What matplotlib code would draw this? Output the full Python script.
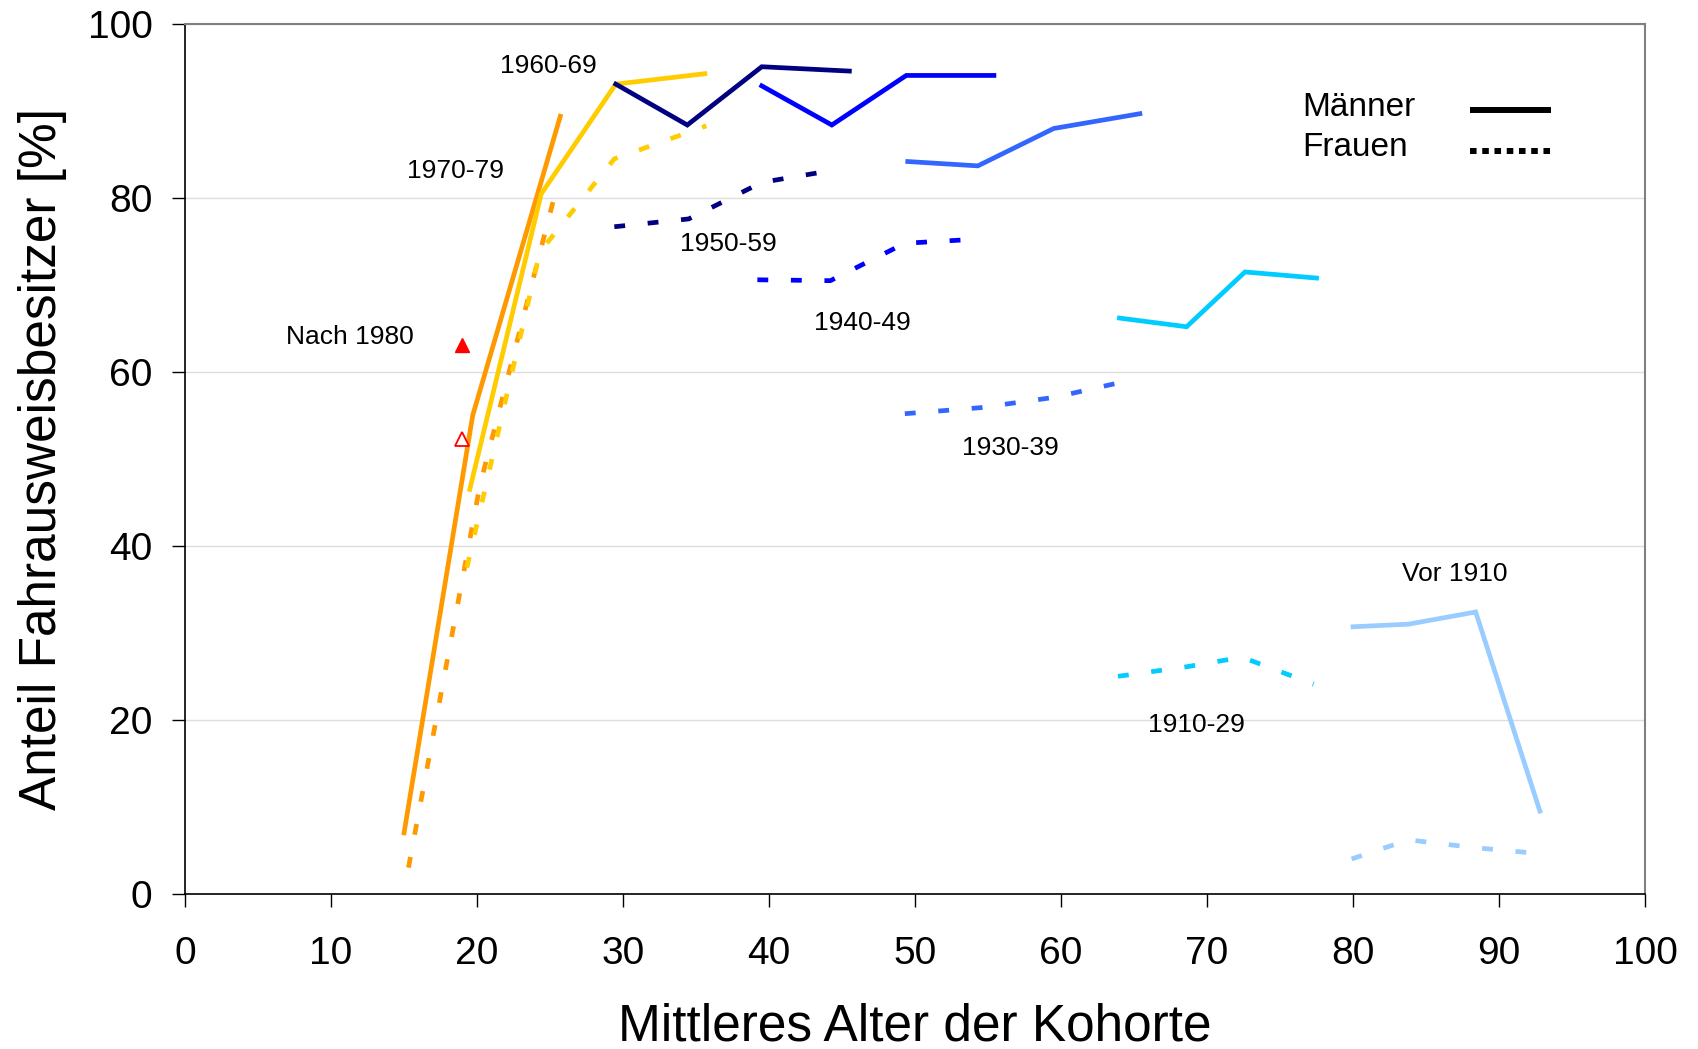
import matplotlib.pyplot as plt

plt.rcParams['font.family'] = ['Liberation Sans', 'DejaVu Sans']

# Kohorten: mittleres Alter (x) und Anteil Fahrausweisbesitzer in % (y)
# Männer = durchgezogen, Frauen = gestrichelt

# Nach 1980
n80_x = [19.0]
n80_m = [63.1]
n80_w = [52.3]

# 1970-79
k7079_xm = [15.0, 19.7, 25.7]
k7079_m = [7.0, 55.0, 89.4]
k7079_xw = [15.3, 20.2, 25.5]
k7079_w = [3.0, 47.0, 81.5]

# 1960-69
k6069_xm = [19.5, 24.4, 29.5, 35.6]
k6069_m = [46.5, 80.5, 93.1, 94.3]
k6069_xw = [19.3, 24.3, 29.4, 35.7]
k6069_w = [37.5, 73.8, 84.5, 88.3]

# 1950-59
k5059_xm = [29.5, 34.4, 39.5, 45.5]
k5059_m = [93.1, 88.4, 95.1, 94.6]
k5059_xw = [29.4, 34.5, 39.5, 44.4]
k5059_w = [76.7, 77.6, 81.8, 83.2]

# 1940-49
k4049_xm = [39.5, 44.3, 49.4, 55.4]
k4049_m = [92.9, 88.4, 94.1, 94.1]
k4049_xw = [39.2, 44.2, 49.3, 54.5]
k4049_w = [70.6, 70.5, 74.8, 75.3]

# 1930-39
k3039_xm = [49.5, 54.3, 59.5, 65.4]
k3039_m = [84.2, 83.7, 88.0, 89.7]
k3039_xw = [49.3, 54.5, 59.6, 64.6]
k3039_w = [55.2, 55.9, 57.1, 59.0]

# 1910-29
k1029_xm = [64.0, 68.6, 72.6, 77.5]
k1029_m = [66.2, 65.2, 71.5, 70.8]
k1029_xw = [63.9, 68.6, 72.4, 77.3]
k1029_w = [25.0, 26.1, 27.2, 24.1]

# Vor 1910
v1910_xm = [80.0, 83.8, 88.4, 92.8]
v1910_m = [30.7, 31.0, 32.4, 9.5]
v1910_xw = [79.9, 83.8, 88.3, 92.9]
v1910_w = [4.0, 6.2, 5.3, 4.6]

# Beschriftungen der Kohorten (Text, x, y)
labels = ['Nach 1980', '1970-79', '1960-69', '1950-59', '1940-49', '1930-39', '1910-29', 'Vor 1910']
label_x = [11.3, 18.5, 24.9, 37.2, 46.4, 56.5, 69.3, 87.0]
label_y = [64.0, 83.1, 95.2, 74.7, 65.6, 51.3, 19.4, 36.8]

fig = plt.figure(figsize=(16.98, 10.49), dpi=100)
ax = fig.add_axes([0.109, 0.148, 0.8598, 0.829])

lw = 3.4
dash = (0, (2.3, 4.8))

kohorten = [
    (k7079_xm, k7079_m, k7079_xw, k7079_w, '#FF9900'),
    (k6069_xm, k6069_m, k6069_xw, k6069_w, '#FFCC00'),
    (k5059_xm, k5059_m, k5059_xw, k5059_w, '#000080'),
    (k4049_xm, k4049_m, k4049_xw, k4049_w, '#0000FF'),
    (k3039_xm, k3039_m, k3039_xw, k3039_w, '#3366FF'),
    (k1029_xm, k1029_m, k1029_xw, k1029_w, '#00CCFF'),
    (v1910_xm, v1910_m, v1910_xw, v1910_w, '#99CCFF'),
]
for xm, m, xw, w, c in kohorten:
    ax.plot(xw, w, color=c, lw=lw, linestyle=dash, dash_capstyle='butt')
    ax.plot(xm, m, color=c, lw=lw, solid_joinstyle='miter')

# Nach 1980: nur Dreiecke
ax.plot(n80_x, n80_m, linestyle='none', marker='^', ms=10, color='#FF0000')
ax.plot(n80_x, n80_w, linestyle='none', marker='^', ms=10, mfc='white', mec='#FF0000', mew=1.3)

for t, x, y in zip(labels, label_x, label_y):
    ax.text(x, y, t, ha='center', va='center', fontsize=19)

# Legende von Hand: Text links, Linie rechts
ax.text(0.765, 0.904, 'Männer', transform=ax.transAxes, fontsize=24, va='center', ha='left')
ax.text(0.765, 0.858, 'Frauen', transform=ax.transAxes, fontsize=24, va='center', ha='left')
ax.plot([0.880, 0.9355], [0.9017, 0.9017], transform=ax.transAxes, color='black', lw=4.3,
        solid_capstyle='butt')
ax.plot([0.880, 0.9355], [0.8544, 0.8544], transform=ax.transAxes, color='black', lw=4.3,
        linestyle=(0, (1.1, 0.95)), dash_capstyle='butt')

ax.set_xlim(0, 100)
ax.set_ylim(0, 100)
ax.set_xticks(range(0, 101, 10))
ax.set_yticks(range(0, 101, 20))
ax.tick_params(axis='both', direction='out', length=9.5, width=1, labelsize=28)
ax.tick_params(axis='x', pad=21)
ax.tick_params(axis='y', pad=14)
ax.set_xlabel('Mittleres Alter der Kohorte', fontsize=37, labelpad=22)
ax.set_ylabel('Anteil Fahrausweisbesitzer [%]', fontsize=37, labelpad=15)

ax.grid(axis='y', color='#DDDDDD', lw=1)
ax.set_axisbelow(True)
for s in ['top', 'right']:
    ax.spines[s].set_color('#808080')
    ax.spines[s].set_linewidth(1.5)
for s in ['left', 'bottom']:
    ax.spines[s].set_color('black')
    ax.spines[s].set_linewidth(1.2)

plt.savefig('out.png', dpi=100)
